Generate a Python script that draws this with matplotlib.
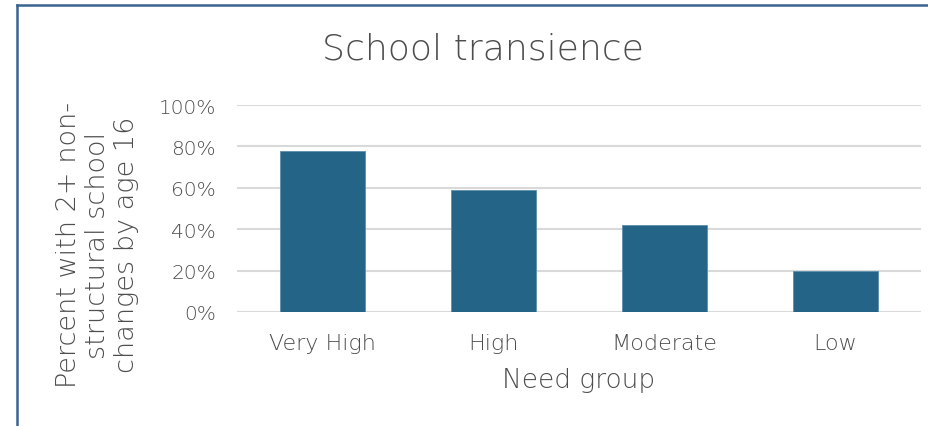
import matplotlib
matplotlib.use("Agg")
import matplotlib.pyplot as plt
from matplotlib.lines import Line2D
from matplotlib.ticker import FuncFormatter

categories = ["Very High", "High", "Moderate", "Low"]
values = [0.78, 0.59, 0.42, 0.20]
yticks = [0, 0.2, 0.4, 0.6, 0.8, 1.0]

W, H = 929, 427
plt.rcParams['font.family'] = ['DejaVu Sans']
plt.rcParams['font.weight'] = 'light'
plt.rcParams['axes.labelweight'] = 'light'
fig = plt.figure(figsize=(W/100, H/100), dpi=100)
ax = fig.add_axes([237/W, 1-313/H, (921-237)/W, (313-106)/H])

txt = '#4d4d4d'
ax.bar(range(len(categories)), values, width=0.5, color='#236487', edgecolor='#5d8fae', linewidth=0.6, zorder=3)
ax.set_xlim(-0.5, len(categories)-0.5)
ax.set_ylim(0, 1.0)
ax.set_yticks(yticks)
ax.yaxis.set_major_formatter(FuncFormatter(lambda v, p: f"{v*100:.0f}%"))
ax.set_xticks(range(len(categories)))
ax.set_xticklabels(categories)
ax.grid(axis='y', color='#d9d9d9', linewidth=1.5, zorder=0)
ax.set_axisbelow(True)
for s in ax.spines.values():
    s.set_visible(False)
ax.tick_params(axis='both', length=0, labelsize=14.5, colors=txt)
ax.tick_params(axis='x', pad=15, labelsize=16)
ax.tick_params(axis='y', pad=15)
ax.set_xlabel("Need group", fontsize=19, color=txt, labelpad=10)
fig.text(98/W, 1-245/H, "Percent with 2+ non-\nstructural school\nchanges by age 16", rotation=90,
         ha='center', va='center', multialignment='center', fontsize=19.5, color=txt, linespacing=1.2)
fig.text((323+643)/2/W, 1-50/H, "School transience", ha='center', va='center', fontsize=26, color=txt)

bc = '#3a6490'
fig.add_artist(Line2D([17/W, 17/W], [0, 1-6/H], transform=fig.transFigure, color=bc, linewidth=1.8))
fig.add_artist(Line2D([17/W, 1], [1-6/H, 1-6/H], transform=fig.transFigure, color=bc, linewidth=1.8))

fig.savefig("out.png", dpi=100)
